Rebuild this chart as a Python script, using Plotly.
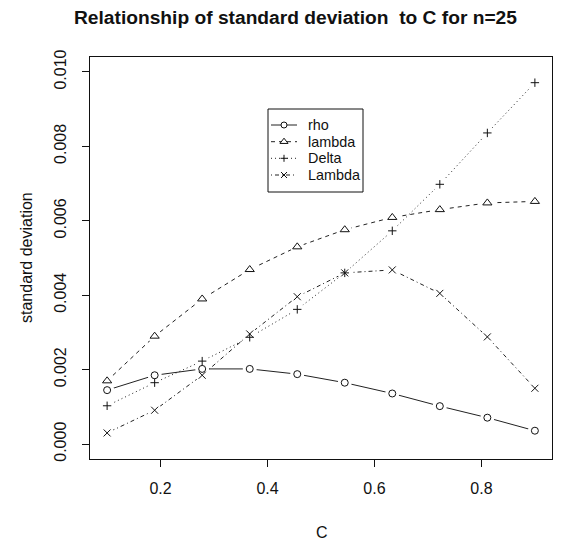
import plotly.graph_objects as go

# ---------------- data ----------------
C = [0.1, 0.1889, 0.2778, 0.3667, 0.4556, 0.5444, 0.6333, 0.7222, 0.8111, 0.9]
rho = [0.00145, 0.00185, 0.00202, 0.00202, 0.00188, 0.00165, 0.00136, 0.00102, 0.00071, 0.00036]
lam = [0.00170, 0.00290, 0.00390, 0.00469, 0.00530, 0.00576, 0.00609, 0.00630, 0.00648, 0.00652]
Delta = [0.00103, 0.00165, 0.00223, 0.00287, 0.00362, 0.00460, 0.00573, 0.00698, 0.00836, 0.00971]
Lam = [0.00030, 0.00091, 0.00185, 0.00296, 0.00396, 0.00460, 0.00468, 0.00405, 0.00288, 0.00150]

series_names = ["rho", "lambda", "Delta", "Lambda"]
x_ticks = [0.2, 0.4, 0.6, 0.8]
x_tick_labels = ["0.2", "0.4", "0.6", "0.8"]
y_ticks = [0.000, 0.002, 0.004, 0.006, 0.008, 0.010]
y_tick_labels = ["0.000", "0.002", "0.004", "0.006", "0.008", "0.010"]

title_text = "Relationship of standard deviation  to C for n=25"
x_title = "C"
y_title = "standard deviation"

# ---------------- layout geometry ----------------
W, H = 561, 546
ML, MR, MT, MB = 90, 9, 57, 87
X0, X1 = ML, W - MR
Y0, Y1 = MT, H - MB
FONT = "Liberation Sans, Arial, sans-serif"
INK = "#111111"
LINE = "#222222"


def px_x(p):
    return (p - X0) / (X1 - X0)


def px_y(p):
    return (Y1 - p) / (Y1 - Y0)


styles = [
    dict(dash="solid", symbol="circle", size=7, fill="white", lw=1),
    dict(dash="4px,4px", symbol="triangle-up", size=8, fill="white", lw=1),
    dict(dash="1px,3px", symbol="cross-thin", size=6, fill=INK, lw=1),
    dict(dash="1px,3px,4px,3px", symbol="x-thin", size=7, fill=INK, lw=1),
]
data = [rho, lam, Delta, Lam]

fig = go.Figure()

# lines
for ys, st in zip(data, styles):
    fig.add_trace(go.Scatter(x=C, y=ys, mode="lines",
                             line=dict(color=LINE, width=1, dash=st["dash"]),
                             showlegend=False, hoverinfo="skip"))
# white halos to mimic R's type="b" gaps
for ys in data:
    fig.add_trace(go.Scatter(x=C, y=ys, mode="markers",
                             marker=dict(symbol="circle", size=14, color="white",
                                         line=dict(width=0)),
                             showlegend=False, hoverinfo="skip"))
# point symbols
for ys, st, nm in zip(data, styles, series_names):
    fig.add_trace(go.Scatter(x=C, y=ys, mode="markers", name=nm,
                             marker=dict(symbol=st["symbol"], size=st["size"],
                                         color=st["fill"],
                                         line=dict(color=INK, width=st["lw"])),
                             showlegend=False))

# ---------------- manual legend (pixel overlay axes) ----------------
LEG_BOX = (268, 109, 363, 192)
row_y = [125, 141.7, 158.3, 175]
seg_x0, seg_x1, mark_x, text_x = 271, 297, 284, 306

shapes = [dict(type="rect", xref="x2", yref="y2",
               x0=LEG_BOX[0], y0=LEG_BOX[1], x1=LEG_BOX[2], y1=LEG_BOX[3],
               line=dict(color=INK, width=1), fillcolor="white", layer="below")]
annotations = []
for ry, st, nm in zip(row_y, styles, series_names):
    fig.add_trace(go.Scatter(x=[seg_x0, seg_x1], y=[ry, ry], mode="lines",
                             xaxis="x2", yaxis="y2",
                             line=dict(color=LINE, width=1, dash=st["dash"]),
                             showlegend=False, hoverinfo="skip"))
    fig.add_trace(go.Scatter(x=[mark_x], y=[ry], mode="markers",
                             xaxis="x2", yaxis="y2",
                             marker=dict(symbol=st["symbol"], size=st["size"] - 1,
                                         color=st["fill"],
                                         line=dict(color=INK, width=st["lw"])),
                             showlegend=False, hoverinfo="skip"))
    annotations.append(dict(xref="x2", yref="y2", x=text_x, y=ry, text=nm,
                            showarrow=False, xanchor="left", yanchor="middle",
                            font=dict(family=FONT, size=14.4, color=INK)))

# titles
annotations.append(dict(xref="paper", yref="paper", x=px_x(295), y=px_y(17),
                        text="<b>" + title_text + "</b>", showarrow=False,
                        xanchor="center", yanchor="middle",
                        font=dict(family=FONT, size=19.2, color=INK)))
annotations.append(dict(xref="paper", yref="paper", x=px_x(322), y=px_y(532),
                        text=x_title, showarrow=False, xanchor="center", yanchor="middle",
                        font=dict(family=FONT, size=16, color=INK)))
annotations.append(dict(xref="paper", yref="paper", x=px_x(26), y=px_y(258),
                        text=y_title, showarrow=False, textangle=-90,
                        xanchor="center", yanchor="middle",
                        font=dict(family=FONT, size=16, color=INK)))

fig.update_layout(
    width=W, height=H,
    margin=dict(l=ML, r=MR, t=MT, b=MB, pad=0),
    paper_bgcolor="white", plot_bgcolor="white",
    showlegend=False,
    font=dict(family=FONT, size=16, color=INK),
    xaxis=dict(range=[0.068, 0.932], tickvals=x_ticks, ticktext=x_tick_labels,
               ticks="outside", ticklen=7, tickwidth=1, tickcolor=INK,
               showline=True, linecolor=INK, linewidth=1, mirror=True,
               showgrid=False, zeroline=False, ticklabelstandoff=8,
               tickfont=dict(family=FONT, size=16, color=INK)),
    yaxis=dict(range=[-0.0004, 0.0104], tickvals=y_ticks, ticktext=y_tick_labels,
               ticks="outside", ticklen=7, tickwidth=1, tickcolor=INK,
               showline=True, linecolor=INK, linewidth=1, mirror=True,
               showgrid=False, zeroline=False, tickangle=-90, ticklabelstandoff=10,
               tickfont=dict(family=FONT, size=16, color=INK)),
    xaxis2=dict(range=[X0, X1], overlaying="x", visible=False, fixedrange=True),
    yaxis2=dict(range=[Y1, Y0], overlaying="y", visible=False, fixedrange=True),
    shapes=shapes,
    annotations=annotations,
)

fig.write_html("out.html")
